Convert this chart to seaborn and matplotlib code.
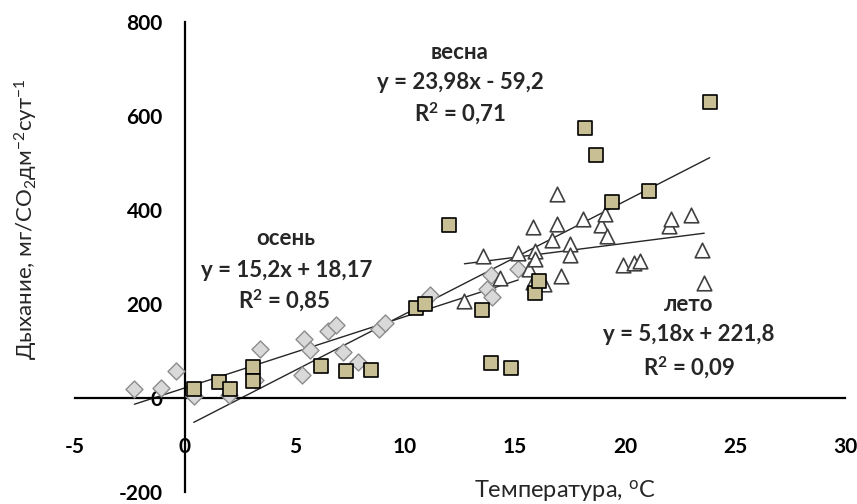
import numpy as np
import pandas as pd
import matplotlib
matplotlib.use('Agg')
import matplotlib.pyplot as plt
import seaborn as sns

# data
autumn_t = [-2.3, -1.1, -0.4, 0.4, 2.0, 3.2, 3.4, 5.3, 5.4, 5.7, 6.5, 6.85, 7.2, 7.85,
            8.8, 9.1, 11.15, 13.75, 13.9, 13.95, 15.15]
autumn_r = [20, 22, 58, 5, 6, 38, 104, 48, 125, 103, 143, 156, 97, 76,
            146, 160, 220, 233, 262, 215, 274]

spring_t = [0.4, 1.55, 2.05, 3.08, 3.08, 6.17, 7.3, 8.44, 10.5, 10.9, 12.0, 13.5, 13.9,
            14.8, 15.9, 16.1, 18.2, 18.7, 19.4, 21.1, 23.85]
spring_r = [19, 34, 19, 65, 36, 67, 57, 59, 192, 200, 369, 188, 74,
            63, 224, 250, 574, 517, 418, 441, 631]

summer_t = [12.7, 13.55, 14.3, 15.15, 15.65, 15.8, 15.8, 15.9, 15.9, 16.3, 16.7, 16.9, 16.9,
            17.1, 17.5, 17.5, 18.1, 18.9, 19.1, 19.2, 19.9, 20.4, 20.7, 22.0, 22.1, 23.0,
            23.5, 23.6]
summer_r = [207, 302, 255, 308, 275, 365, 247, 312, 295, 243, 336, 435, 370,
            260, 327, 304, 382, 368, 392, 344, 283, 287, 291, 366, 382, 389,
            315, 245]

x_ticks = [-5, 0, 5, 10, 15, 20, 25, 30]
y_ticks = [-200, 0, 200, 400, 600, 800]

sns.set_style('white')
plt.rcParams['font.family'] = ['Lato', 'DejaVu Sans']
plt.rcParams['mathtext.fontset'] = 'custom'
plt.rcParams['mathtext.rm'] = 'Lato'
plt.rcParams['mathtext.it'] = 'Lato'
plt.rcParams['mathtext.bf'] = 'Lato:bold'

fig = plt.figure(figsize=(8.57, 5.04), dpi=100)
ax = fig.add_axes([0.0875, 0.024, 0.8985, 0.932])

# trend lines first, markers on top
for t, r in [(autumn_t, autumn_r), (spring_t, spring_r), (summer_t, summer_r)]:
    sns.regplot(x=t, y=r, ax=ax, scatter=False, ci=None, truncate=True,
                line_kws={'color': '#262626', 'lw': 1.0, 'zorder': 2})

sns.scatterplot(x=autumn_t, y=autumn_r, ax=ax, marker='D', s=75,
                color='#d9d9d9', edgecolor='#8c8c8c', linewidth=1.0, zorder=3)
sns.scatterplot(x=summer_t, y=summer_r, ax=ax, marker='^', s=110,
                color='white', edgecolor='#404040', linewidth=1.2, zorder=4)
sns.scatterplot(x=spring_t, y=spring_r, ax=ax, marker='s', s=115,
                color='#c9bf95', edgecolor='black', linewidth=1.2, zorder=5)

# axes crossing at zero (set before tick styling, it resets the ticks)
ax.spines['left'].set_position(('data', 0))
ax.spines['bottom'].set_position(('data', 0))
ax.spines['top'].set_visible(False)
ax.spines['right'].set_visible(False)
for s in ['left', 'bottom']:
    ax.spines[s].set_linewidth(1.6)
    ax.spines[s].set_color('black')

ax.set_xlim(-5, 30)
ax.set_ylim(-200, 800)
ax.set_xticks(x_ticks)
ax.set_yticks(y_ticks)
ax.set_xticklabels([str(v) for v in x_ticks], fontweight='bold', fontsize=15)
ax.set_yticklabels([str(v) for v in y_ticks], fontweight='bold', fontsize=15)
ax.tick_params(axis='x', direction='out', length=5, width=1.6, pad=23, colors='black')
ax.tick_params(axis='y', direction='out', length=5, width=1.6, pad=11, colors='black')

ax.set_xlabel('Температура, $^{o}$C', fontsize=17)
ax.xaxis.set_label_coords(0.636, 0.03)
ax.set_ylabel('Дыхание, мг/CO$_2$дм$^{-2}$сут$^{-1}$', fontsize=16)
ax.yaxis.set_label_coords(-0.045, 0.58)

# equations
txt = dict(fontsize=16, fontweight='bold', ha='center', va='center')
ax.text(12.5, 735, 'весна', **txt)
ax.text(12.5, 671, 'y = 23,98x - 59,2', **txt)
ax.text(12.5, 604, 'R$^{\\mathbf{2}}$ = 0,71', **txt)

ax.text(4.6, 340, 'осень', **txt)
ax.text(4.6, 272, 'y = 15,2x + 18,17', **txt)
ax.text(4.5, 207, 'R$^{\\mathbf{2}}$ = 0,85', **txt)

ax.text(22.9, 200, 'лето', **txt)
ax.text(22.9, 135, 'y = 5,18x + 221,8', **txt)
ax.text(22.9, 65, 'R$^{\\mathbf{2}}$ = 0,09', **txt)

fig.savefig('out.png', dpi=100)
